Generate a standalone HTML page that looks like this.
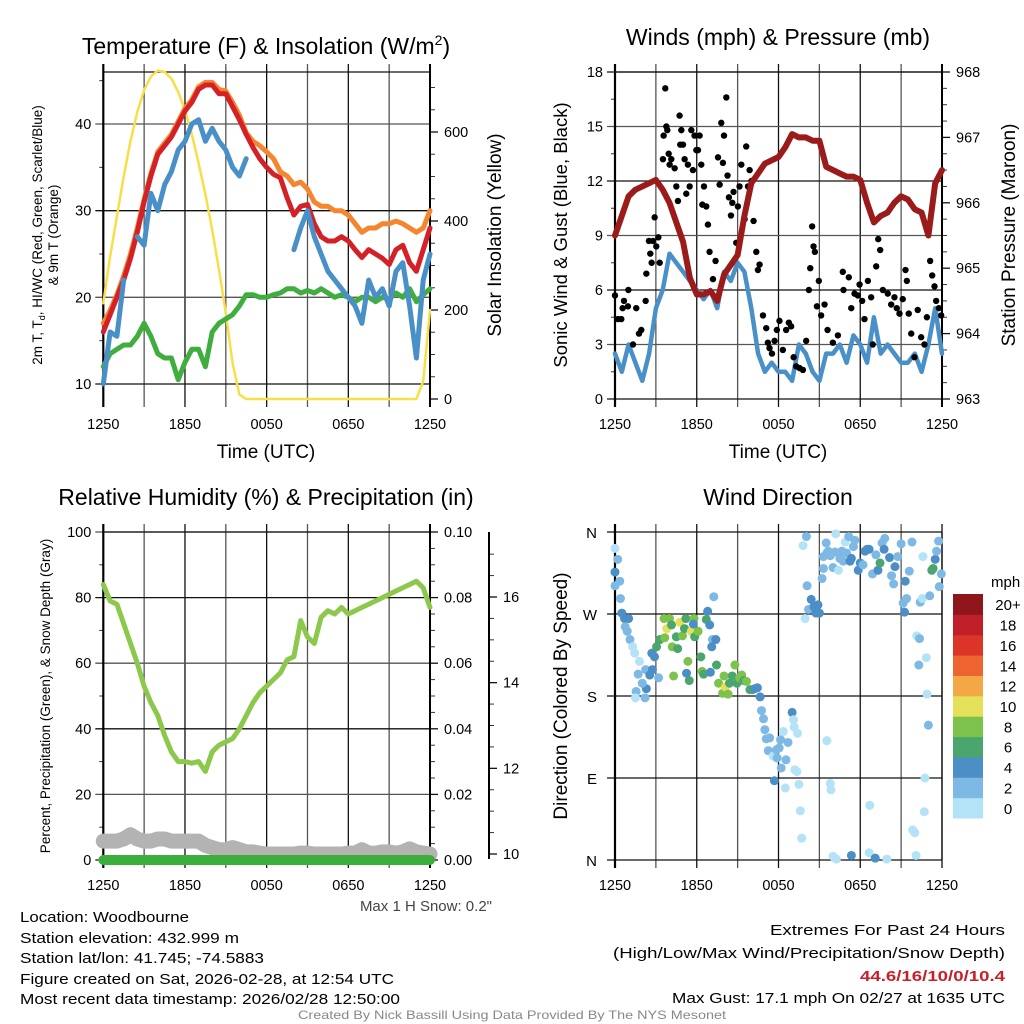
<!DOCTYPE html>
<html><head><meta charset="utf-8"><title>Woodbourne Mesonet</title>
<style>
html,body{margin:0;padding:0;background:#fff;}
svg{display:block;font-family:"Liberation Sans",Arial,sans-serif;}
</style></head>
<body>
<svg id="fig" width="1024" height="1024" viewBox="0 0 1024 1024" xmlns="http://www.w3.org/2000/svg">
<rect width="1024" height="1024" fill="#fff"/>
<g id="layer"></g>
<text x="266" y="54" font-size="23" text-anchor="middle">Temperature (F) &amp; Insolation (W/m<tspan font-size="14" dy="-9">2</tspan><tspan dy="9">)</tspan></text>
<text x="778" y="45" font-size="23" text-anchor="middle">Winds (mph) &amp; Pressure (mb)</text>
<text x="266" y="505" font-size="23" text-anchor="middle">Relative Humidity (%) &amp; Precipitation (in)</text>
<text x="778" y="505" font-size="23" text-anchor="middle">Wind Direction</text>
<text transform="translate(42,235) rotate(-90)" font-size="13.5" text-anchor="middle">2m T, T<tspan font-size="9" dy="3">d</tspan><tspan dy="-3">, HI/WC (Red, Green, Scarlet/Blue)</tspan></text>
<text transform="translate(58,235) rotate(-90)" font-size="13.5" text-anchor="middle">&amp; 9m T (Orange)</text>
<text transform="translate(501,235) rotate(-90)" font-size="19" text-anchor="middle">Solar Insolation (Yellow)</text>
<text x="266" y="458" font-size="19" text-anchor="middle">Time (UTC)</text>
<text transform="translate(567,235) rotate(-90)" font-size="18.5" text-anchor="middle">Sonic Wind &amp; Gust (Blue, Black)</text>
<text transform="translate(1015,235) rotate(-90)" font-size="19" text-anchor="middle">Station Pressure (Maroon)</text>
<text x="778" y="458" font-size="19" text-anchor="middle">Time (UTC)</text>
<text transform="translate(50,696) rotate(-90)" font-size="13.5" text-anchor="middle">Percent, Precipitation (Green), &amp; Snow Depth (Gray)</text>
<text transform="translate(567,696) rotate(-90)" font-size="19" text-anchor="middle">Direction (Colored By Speed)</text>
<text x="991" y="587" font-size="15">mph</text>
<text x="492" y="911" font-size="15" fill="#444" text-anchor="end">Max 1 H Snow: 0.2"</text>
<g font-size="15">
<text x="20" y="922" textLength="169" lengthAdjust="spacingAndGlyphs">Location: Woodbourne</text>
<text x="20" y="943" textLength="219" lengthAdjust="spacingAndGlyphs">Station elevation: 432.999 m</text>
<text x="20" y="963" textLength="244" lengthAdjust="spacingAndGlyphs">Station lat/lon: 41.745; -74.5883</text>
<text x="20" y="984" textLength="374" lengthAdjust="spacingAndGlyphs">Figure created on Sat, 2026-02-28, at 12:54 UTC</text>
<text x="20" y="1004" textLength="380" lengthAdjust="spacingAndGlyphs">Most recent data timestamp: 2026/02/28 12:50:00</text>
</g>
<g font-size="15" text-anchor="end">
<text x="1005" y="935" textLength="235" lengthAdjust="spacingAndGlyphs">Extremes For Past 24 Hours</text>
<text x="1005" y="958" textLength="392" lengthAdjust="spacingAndGlyphs">(High/Low/Max Wind/Precipitation/Snow Depth)</text>
<text x="1005" y="981" fill="#c8202a" font-weight="bold" textLength="145" lengthAdjust="spacingAndGlyphs">44.6/16/10/0/10.4</text>
<text x="1005" y="1003" textLength="333" lengthAdjust="spacingAndGlyphs">Max Gust: 17.1 mph On 02/27 at 1635 UTC</text>
</g>
<text x="512" y="1019" font-size="12" fill="#888" text-anchor="middle" textLength="428" lengthAdjust="spacingAndGlyphs">Created By Nick Bassill Using Data Provided By The NYS Mesonet</text>
</svg>
<script>
// ---------- data ----------
const timeLabels = ["1250","1850","0050","0650","1250"];
const halfHours = [0,0.5,1,1.5,2,2.5,3,3.5,4,4.5,5,5.5,6,6.5,7,7.5,8,8.5,9,9.5,10,10.5,11,11.5,12,12.5,13,13.5,14,14.5,15,15.5,16,16.5,17,17.5,18,18.5,19,19.5,20,20.5,21,21.5,22,22.5,23,23.5,24];
const temp2m = [16,18,20,22,24.5,27.5,31,34,36.5,37.5,38.5,40,41.5,42.5,44,44.5,44.5,43.5,43.5,42,40.5,38.8,37.3,36,35,34.2,33.8,31.5,29.5,30.5,30.7,28.5,27,26.5,26.5,27,26.5,25.5,24.6,25.5,25,24.5,23.8,25.5,26,24,23,25.5,28];
const temp9m = [17,18.5,20.3,22.5,25,28,31.3,34.3,36.8,37.8,38.8,40.3,41.8,42.8,44.3,44.8,44.8,44,43.8,42.5,41,39,38,37.5,36.8,36,34.5,34,33,33.3,32.5,31,30.5,30.5,30,30,29.5,28.5,27.5,28,28,28.5,28.5,28.8,28.5,28,27.5,28,30];
const windChill = [10,16,15.5,22,null,27,26,32,30,33,34.5,37,38,40,40.5,38,39.5,38,37,35,34,36,null,null,null,32.5,null,null,25.5,28,30,27,25,23,22,21,20,19,17,22,20,21,19,23,24,19,13,22,25];
const dewPoint = [12,13.5,14,14.5,14.5,15.5,17,15.5,13.5,13,13,10.5,12.5,14,14,12,16,17,17.5,18,19,20.3,20.3,20,20,20.3,20.5,21,21,20.5,20.8,20.5,21,20.5,20,20.3,20,19.5,20,20,19.5,20,19.8,20.5,20,21,19.5,20.3,21];
const insolation = [215,320,410,500,580,645,694,725,738,735,720,690,650,595,530,460,380,290,193,80,10,0,0,0,0,0,0,0,0,0,0,0,0,0,0,0,0,0,0,0,0,0,0,0,0,0,0,40,200];
const tempTicks = [10,20,30,40];
const solarTicks = [0,200,400,600];

const windSpeed = [2.5,1.5,3,2,1,2.5,5,6,8,7.5,7,6.5,6,5.5,6,5,7,6.5,7.5,7,5,2.5,1.5,2,1.5,1.5,1,3,2.5,1.5,1,2.5,2.5,3,2,3.5,3,2,4.5,2.5,3,2.5,2,2,2.5,1.5,3,5,2.5];
const pressure = [965.5,965.8,966.1,966.2,966.25,966.3,966.35,966.2,966.0,965.7,965.4,964.85,964.6,964.6,964.65,964.5,964.9,965.05,965.2,965.8,966.3,966.45,966.6,966.65,966.7,966.85,967.05,967.0,967.0,966.95,966.95,966.55,966.5,966.45,966.4,966.4,966.35,966.0,965.7,965.8,965.85,966.0,966.1,966.05,965.9,965.85,965.5,966.3,966.5];
const gustHours = [0,.22,.46,.56,.66,.95,.98,1.32,1.56,1.76,1.93,2.25,2.30,2.49,2.59,2.69,2.79,2.91,3.03,3.18,3.28,3.52,3.57,3.69,3.77,3.84,3.94,4.01,4.13,4.38,4.50,4.62,4.74,4.79,4.87,4.99,5.11,5.23,5.35,5.48,5.60,5.72,5.84,5.97,6.09,6.21,6.33,6.41,6.53,6.70,6.82,6.94,7.19,7.38,7.56,7.68,7.80,7.92,8.00,8.17,8.26,8.36,8.51,8.61,8.70,8.90,9.02,9.14,9.27,9.51,9.63,9.76,9.88,10.02,10.17,10.37,10.49,10.61,10.86,11.10,11.22,11.34,11.52,11.71,11.88,12.07,12.32,12.56,12.76,12.93,13.11,13.30,13.55,13.79,14.03,14.23,14.33,14.47,14.57,14.67,14.82,14.96,15.13,15.38,15.60,15.99,16.36,16.72,16.77,17.16,17.34,17.58,17.82,17.95,18.14,18.31,18.56,18.80,18.92,19.17,19.32,19.46,19.66,20.02,20.27,20.51,20.68,20.88,21.12,21.32,21.42,21.56,21.74,21.98,22.22,22.47,22.71,22.89,23.13,23.28,23.45,23.57,23.77,23.94];
const gustValues = [5.7,4.4,4.4,5,5.4,5.1,6,3,5,3.6,3.8,5.4,6.9,8.7,8,7.5,8.7,10,8.4,8.9,7.5,13.2,14.5,17.1,15,14.8,13.5,12.9,13.2,12.7,11.7,10.9,15.6,14,14.8,14,13.2,11.3,12.9,11.7,14.8,12.6,14.5,13.7,13.7,14.5,12.9,10.7,11.7,10.6,9.6,8.1,6.6,7.6,13.3,11.8,15.2,13,14.5,16.6,12.3,11.1,10.1,10.8,11.4,8.6,10.6,11.7,12.9,9.9,13.9,11.7,12.6,12,9.8,8.1,7.1,7.4,4.6,3.9,3.1,2.8,2.5,3.2,3.8,4.3,2.7,3.8,4.2,4,2.3,1.8,1.7,1.6,3.2,6,7.2,9.5,8.4,8.1,5.1,6.5,4.6,5.2,3.8,3.1,3.5,7,6,6.7,5,5.8,5.7,6.3,5.4,4.4,6.5,5.6,3,7.3,8.8,8.2,6,5.8,5.2,5.6,5,4.7,5.5,7.1,6.5,4.7,3.6,2.3,4.9,3.4,3,4.5,7.6,6.8,6.2,5.4,5,4.6];
const windTicks = [0,3,6,9,12,15,18];
const pressureTicks = [963,964,965,966,967,968];

const rhValues = [84,79,78,72,66,60,53,48,44,38,33,30,30,29.5,30,27,33,35,36,37,40,44,48,51,53,55,57,61,62,73,68,66,74,76,75,77,75,76,77,78,79,80,81,82,83,84,85,83,77];
const precipValues = [0,0,0,0,0,0,0,0,0,0,0,0,0,0,0,0,0,0,0,0,0,0,0,0,0,0,0,0,0,0,0,0,0,0,0,0,0,0,0,0,0,0,0,0,0,0,0,0,0];
const snowDepth = [10.3,10.3,10.3,10.35,10.45,10.35,10.3,10.3,10.35,10.35,10.3,10.3,10.3,10.3,10.3,10.2,10.15,10.1,10.1,10.15,10.1,10.05,10.05,10.02,10.0,10.0,10.0,10.0,10.0,10.02,10.02,10.0,10.0,10.0,10.0,10.0,10.02,10.02,10.1,10.02,10.02,10.05,10.05,10.02,10.05,10.12,10.05,10.02,10.0];
const rhTicks = [0,20,40,60,80,100];
const precipTicks = ["0.00","0.02","0.04","0.06","0.08","0.10"];
const snowTicks = [10,12,14,16];

const dirHours = [0,0.2,0,0,0.35,0.4,0.5,0.7,1,0.75,0.9,1.1,1.3,1.45,1.8,1.7,1.55,1.5,2.2,2.3,2,2.25,2.55,2.75,2.9,2.7,3.2,3.05,3.3,3.65,3.6,4,3.8,4.15,4.2,4.5,4.75,4.95,5.1,5.2,4.3,4.6,5.35,5.45,5.25,5.6,5.8,5.85,6.1,6.3,6.4,6.5,5.75,6.7,6.8,6.95,7.15,7,7.25,7.4,7.1,7.45,7.6,7.9,8.1,8.3,8,8.4,8.6,8.8,8.95,9.15,9.3,9.45,9.65,9.9,10.1,10.25,10.45,10.65,10.75,10.9,11,11.1,11.35,11.25,11.6,11.9,11.85,12.05,12.15,12.35,12.55,12.7,13,13.1,13.15,13.4,13.2,13.35,12.5,11.7,13.5,13.6,13.7,13.8,14.05,14.1,13.95,14.2,14.4,14.6,14.75,14.9,15,15.2,15.3,15.3,15.5,15.55,15.65,15.8,16,16.15,16.2,16.4,16.5,16.65,16.75,16.9,17,17.15,17.25,17.35,17.5,17.6,17.85,18,18.2,18.35,18.5,18.65,18.9,19.15,19.3,19.45,19.6,19.75,19.8,20.15,20.3,20.45,20.55,20.75,21,21.3,21.15,21.25,21.4,21.6,21.8,22.1,21.85,22,22.15,22.35,22.3,22.4,22.6,22.55,22.7,22.75,22.85,22.9,23,23.1,23.25,23.35,23.5,23.6,23.75,23.8,23.95,12.2,15.55,15.8,16,16.25,17.35,18.7,18.65,19.1,19.95,15.85];
const dirDeg = [342,330,316,301,306,287,271,265,265,256,251,242,234,227,218,204,185,178,178,188,194,209,203,209,223,227,200,234,242,244,265,265,254,258,234,245,261,246,254,265,202,232,218,197,205,251,265,245,251,223,207,204,259,264,273,258,242,206,289,242,234,214,194,183,190,182,202,194,202,214,194,200,203,197,196,187,187,188,189,179,164,155,143,133,134,120,114,112,121,123,132,141,110,129,162,154,146,139,99,97,79,87,83,54,24,345,355,301,265,275,286,278,271,280,271,309,320,333,348,337,339,334,321,338,358,318,331,339,328,349,337,355,328,331,344,351,318,326,324,339,341,341,314,335,318,326,348,341,353,332,312,303,322,333,347,306,282,272,287,317,349,5,33,30,246,243,214,283,333,287,53,90,222,182,148,290,318,320,330,339,350,300,314,101,131,84,4,1,5,60,8,2,1,77];
const dirSpeed = [1,3,4,3,3,3,4,4,4,3,2,3,1,1,1,3,3,1,3,4,3,3,4,4,4,4,3,6,6,8,8,8,10,7,8,6,10,8,6,6,8,6,8,6,4,10,8,6,8,6,8,6,4,6,4,4,3,4,2,4,4,6,8,8,10,8,8,6,6,8,6,8,8,6,8,6,6,4,4,4,3,3,3,3,3,2,1,3,3,3,2,1,3,3,4,1,1,1,1,1,1,4,1,1,1,1,2,3,1,3,4,4,4,4,4,3,2,2,2,2,2,2,2,2,1,1,2,2,2,1,2,2,4,4,2,2,4,4,2,4,4,4,3,2,4,6,2,4,2,4,3,2,4,2,2,4,2,4,3,2,3,1,1,1,1,2,2,3,1,1,1,1,1,1,3,3,6,6,4,2,2,3,3,2,1,1,1,1,4,1,1,4,1,1];
const dirTickLabels = ["N","E","S","W","N"];
const colorbarLabels = ["0","2","4","6","8","10","12","14","16","18","20+"];
const speedColors = ["#b4e2f6","#7db9e4","#4b8fc6","#4aa66c","#7dc24a","#e5e05a","#f4a845","#ee6430","#dc3429","#c01f2a","#8f171c"];

// ---------- helpers ----------
const NS="http://www.w3.org/2000/svg";
const layer=document.getElementById('layer');
function mk(tag,attrs,parent){const e=document.createElementNS(NS,tag);for(const k in attrs)e.setAttribute(k,attrs[k]);(parent||layer).appendChild(e);return e;}
function panel(x0,x1,yTop,yBot){return {x0,x1,yTop,yBot,xs:h=>x0+h/24*(x1-x0)};}
function lin(d0,d1,p0,p1){return v=>p0+(v-d0)/(d1-d0)*(p1-p0);}
function pathFrom(xsArr,ys,xs,yf){let d="",pen=false;for(let i=0;i<xsArr.length;i++){const v=ys[i];if(v===null||v===undefined){pen=false;continue;}d+=(pen?"L":"M")+xs(xsArr[i]).toFixed(1)+","+yf(v).toFixed(1);pen=true;}return d;}

function frame(P,name){
  const g=mk('g',{});
  
  
  for(let k=0;k<=8;k++){const x=P.xs(k*3);
    mk('line',{x1:x,x2:x,y1:P.yTop-8,y2:P.yBot+8,stroke:(k%2?'#555':'#111'),'stroke-width':1.3},g);}
  const lab=mk('g',{});
  
  
  timeLabels.forEach((t,i)=>{const e=mk('text',{x:P.xs(i*6),y:P.yBot+30,'font-size':14.5,'text-anchor':'middle'},lab);e.textContent=t;});
  return g;
}
function hline(g,y,x0,x1,c){mk('line',{x1:x0,x2:x1,y1:y,y2:y,stroke:c||'#222','stroke-width':1.3},g);}
function yTicksLeft(P,vals,yf,labels,name,minor){
  const g=mk('g',{});
  
  
  vals.forEach((v,i)=>{const y=yf(v);hline(g,y,P.x0-8,P.x1,i%2?'#555':'#111');
    const t=mk('text',{x:P.x0-12,y:y+5,'font-size':14.5,'text-anchor':'end'},g);t.textContent=labels?labels[i]:v;});
  (minor||[]).forEach(v=>{const y=yf(v);mk('line',{x1:P.x0-4,x2:P.x0,y1:y,y2:y,stroke:'#333','stroke-width':1},g);});
  mk('line',{x1:P.x0,x2:P.x0,y1:P.yTop-8,y2:P.yBot+8,stroke:'#000','stroke-width':2.2},g);
  hline(g,P.yTop,P.x0,P.x1,'#111');
}
function yTicksRight(P,vals,yf,labels,name,minor,x){
  const g=mk('g',{});
  
  
  const ax=x||P.x1;
  vals.forEach((v,i)=>{const y=yf(v);mk('line',{x1:ax,x2:ax+8,y1:y,y2:y,stroke:'#111','stroke-width':1.3},g);
    const t=mk('text',{x:ax+14,y:y+5,'font-size':14.5},g);t.textContent=labels?labels[i]:v;});
  (minor||[]).forEach(v=>{const y=yf(v);mk('line',{x1:ax,x2:ax+5,y1:y,y2:y,stroke:'#333','stroke-width':1},g);});
  mk('line',{x1:ax,x2:ax,y1:Math.min(P.yTop,yf(vals[vals.length-1]))-(x?0:8),y2:x?yf(vals[0])+5:P.yBot+8,stroke:'#000','stroke-width':2},g);
}
function seriesLine(name,xsArr,ys,P,yf,color,w,cap){
  const p=mk('path',{d:pathFrom(xsArr,ys,P.xs,yf),fill:'none',stroke:color,'stroke-width':w,'stroke-linejoin':'round','stroke-linecap':cap||'round'});
  
  
  return p;
}

// ---------- panel 1 ----------
const P1=panel(103.3,430,72,399);
const yT=lin(10,40,384,124);
const yS=lin(0,600,399,132);
frame(P1,'temperature');
yTicksLeft(P1,tempTicks,yT,null,'temperature-y-axis',[15,25,35,45]);
yTicksRight(P1,solarTicks,yS,null,'insolation-y-axis',[50,100,150,250,300,350,450,500,550,650,700]);
seriesLine('insolation-line',halfHours,insolation,P1,yS,'#f7df4a',2.5);
seriesLine('dewpoint-line',halfHours,dewPoint,P1,yT,'#3fae3f',5);
seriesLine('temp-9m-line',halfHours,temp9m,P1,yT,'#f5862f',5);
seriesLine('temp-2m-line',halfHours,temp2m,P1,yT,'#d42027',5);
seriesLine('windchill-line',halfHours,windChill,P1,yT,'#4a90c8',5);

// ---------- panel 2 ----------
const P2=panel(615,942,72,399);
const yW=lin(0,18,399,72);
const yP=lin(963,968,399,72);
frame(P2,'wind');
yTicksLeft(P2,windTicks,yW,null,'wind-y-axis',[1.5,4.5,7.5,10.5,13.5,16.5]);
yTicksRight(P2,pressureTicks,yP,null,'pressure-y-axis',[963.25,963.5,963.75,964.25,964.5,964.75,965.25,965.5,965.75,966.25,966.5,966.75,967.25,967.5,967.75]);
seriesLine('wind-speed-line',halfHours,windSpeed,P2,yW,'#4a90c8',4.5);
const gg=mk('g',{});


gustHours.forEach((h,i)=>{const c=mk('circle',{cx:P2.xs(h),cy:yW(gustValues[i]),r:3.2,fill:'#000'},gg);
  
  });
seriesLine('pressure-line',halfHours,pressure,P2,yP,'#9b1a1a',6);

// ---------- panel 3 ----------
const P3=panel(103.3,430,532,860);
const yR=lin(0,100,860,532);
const yPr=lin(0,0.1,860,532);
const ySn=lin(10,16,854,597);
frame(P3,'humidity');
yTicksLeft(P3,rhTicks,yR,null,'humidity-y-axis',[10,30,50,70,90]);
yTicksRight(P3,[0,0.02,0.04,0.06,0.08,0.1],yPr,precipTicks,'precip-y-axis',[0.005,0.01,0.015,0.025,0.03,0.035,0.045,0.05,0.055,0.065,0.07,0.075,0.085,0.09,0.095]);
yTicksRight(P3,snowTicks,ySn,null,'snow-depth-y-axis',[10.5,11,11.5,12.5,13,13.5,14.5,15,15.5,16.5,17],489);
seriesLine('snow-depth-line',halfHours,snowDepth,P3,ySn,'#b3b3b3',15);
seriesLine('precip-line',halfHours,precipValues,P3,yPr,'#3cae3c',10);
seriesLine('humidity-line',halfHours,rhValues,P3,yR,'#8cc84b',5);

// ---------- panel 4 ----------
const P4=panel(615,942,532,860);
const yD=lin(0,360,860,532);
frame(P4,'direction');
(function(){
  const g=mk('g',{});
  
  
  dirTickLabels.forEach((t,i)=>{const y=yD(i*90);hline(g,y,P4.x0-8,P4.x1,'#111');
    const e=mk('text',{x:P4.x0-18,y:y+6,'font-size':15,'text-anchor':'end'},g);e.textContent=t;});
  mk('line',{x1:P4.x0,x2:P4.x0,y1:P4.yTop-8,y2:P4.yBot+8,stroke:'#000','stroke-width':2.2},g);
  mk('line',{x1:P4.x1,x2:P4.x1,y1:P4.yTop,y2:P4.yBot,stroke:'#111','stroke-width':1.3},g);
})();
function speedColor(s){return speedColors[Math.min(10,Math.floor(s/2))];}
const dg=mk('g',{});


const nDir=Math.min(dirHours.length,dirDeg.length,dirSpeed.length);
for(let i=0;i<nDir;i++){const c=mk('circle',{cx:P4.xs(dirHours[i]),cy:yD(dirDeg[i]),r:4.5,fill:speedColor(dirSpeed[i])},dg);
  
  }
const cb=mk('g',{});


const cbTop=594,cbBot=818,cbH=(cbBot-cbTop)/11;
colorbarLabels.forEach((l,i)=>{const y=cbBot-(i+1)*cbH;
  const r=mk('rect',{x:953,y:y,width:30,height:cbH+0.5,fill:speedColors[i]},cb);
  
  
  const t=mk('text',{x:1008,y:y+cbH/2+6,'font-size':15,'text-anchor':'middle'},cb);t.textContent=l;});
</script>
</body></html>
